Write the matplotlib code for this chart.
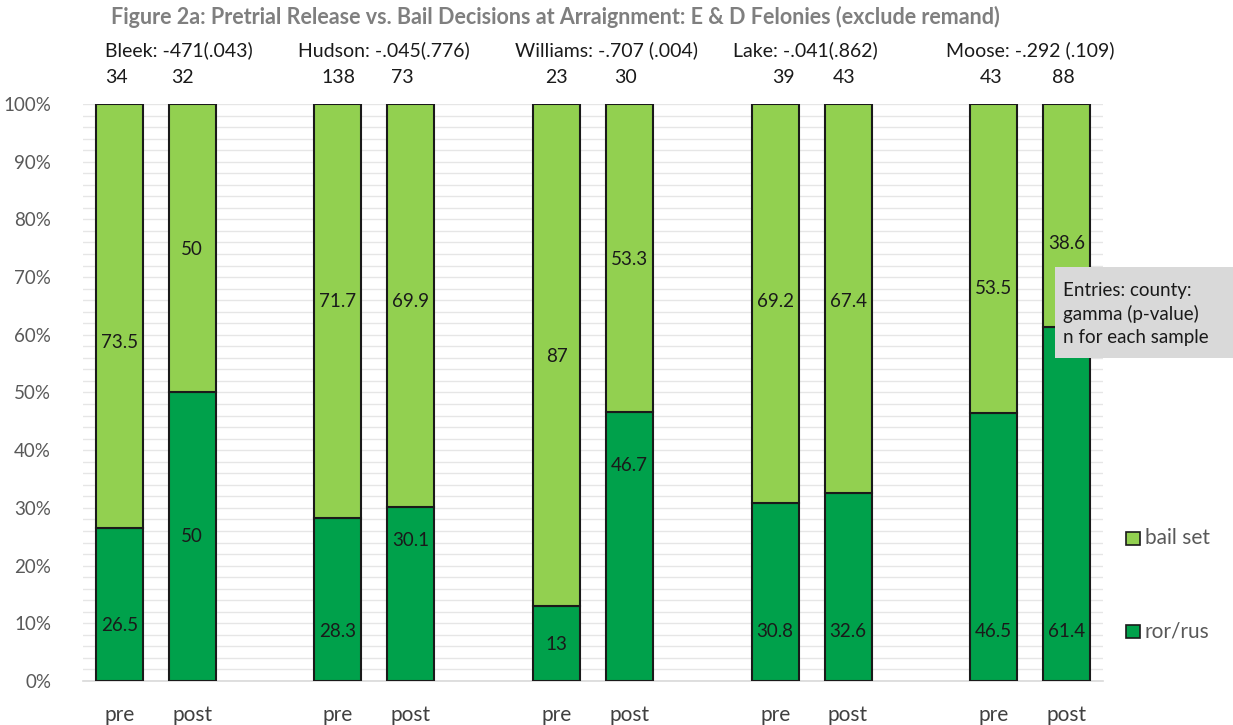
import matplotlib
matplotlib.use("Agg")
import matplotlib.pyplot as plt
import numpy as np
from matplotlib.patches import Rectangle

plt.rcParams['font.family'] = ['Lato', 'DejaVu Sans']

# Data
counties = ['Bleek', 'Hudson', 'Williams', 'Lake', 'Moose']
stats = ['-471(.043)', '-.045(.776)', '-.707 (.004)', '-.041(.862)', '-.292 (.109)']
periods = ['pre', 'post']
n_sample = [34, 32, 138, 73, 23, 30, 39, 43, 43, 88]
ror_rus = [26.5, 50, 28.3, 30.1, 13, 46.7, 30.8, 32.6, 46.5, 61.4]
bail_set = [73.5, 50, 71.7, 69.9, 87, 53.3, 69.2, 67.4, 53.5, 38.6]

# where the value labels sit inside each bar (percent height)
ror_lab_y = [9.7, 25.0, 8.5, 24.4, 6.4, 37.4, 8.5, 8.5, 8.5, 8.5]
bail_lab_y = [58.6, 74.7, 65.7, 65.7, 56.3, 73.0, 65.7, 65.7, 68.1, 75.9]
# header text nudges (in slot units)
head_dx = [0.32, 0.13, 0.19, -0.09, 0.0]
n_dx = [-0.04, -0.14, 0.0, -0.12, 0.0, -0.05, 0.12, -0.05, -0.04, -0.04]

dark = '#00A14B'
light = '#92D050'
edge = '#1a1a1a'

# each county uses 3 slots: pre, post, blank gap
xpos = []
for g in range(len(counties)):
    xpos += [g * 3, g * 3 + 1]
xpos = np.array(xpos)

fig = plt.figure(figsize=(12.33, 7.25), dpi=100)
ax = fig.add_axes([0.0673, 0.0607, 0.8273, 0.7959])

w = 0.645
ax.bar(xpos, ror_rus, width=w, color=dark, edgecolor=edge, linewidth=1.5, zorder=3)
ax.bar(xpos, bail_set, bottom=ror_rus, width=w, color=light, edgecolor=edge,
       linewidth=1.5, zorder=3)

for x, v, yl in zip(xpos, ror_rus, ror_lab_y):
    ax.text(x, yl, '{:g}'.format(v), ha='center', va='center', fontsize=13.5,
            color='#1a1a1a', zorder=4)
for x, v, yl in zip(xpos, bail_set, bail_lab_y):
    ax.text(x, yl, '{:g}'.format(v), ha='center', va='center', fontsize=13.5,
            color='#1a1a1a', zorder=4)

# sample sizes and county headers above the bars
for x, n, dx in zip(xpos, n_sample, n_dx):
    ax.text(x + dx, 104.6, str(n), ha='center', va='center', fontsize=14, color='#1a1a1a')
for g, (c, s) in enumerate(zip(counties, stats)):
    ax.text(g * 3 + 0.5 + head_dx[g], 109.3, '{}: {}'.format(c, s), ha='center',
            va='center', fontsize=14, color='#1a1a1a')

ax.set_xlim(-0.5, 13.5)
ax.set_ylim(0, 100)
ax.set_yticks(np.arange(0, 101, 10))
ax.set_yticklabels(['{}%'.format(t) for t in range(0, 101, 10)])
ax.set_yticks(np.arange(0, 101, 2), minor=True)
ax.set_xticks(xpos)
ax.set_xticklabels(periods * len(counties))
ax.tick_params(axis='y', length=0, labelsize=13.5, labelcolor='#595959', pad=23)
ax.tick_params(axis='y', which='minor', length=0)
ax.tick_params(axis='x', length=0, labelsize=15, labelcolor='#404040', pad=17)
ax.grid(axis='y', which='both', color='#e6e6e6', linewidth=1, zorder=0)
ax.set_axisbelow(True)
for sp in ['top', 'right', 'left']:
    ax.spines[sp].set_visible(False)
ax.spines['bottom'].set_color('#d9d9d9')
ax.spines['bottom'].set_linewidth(1.2)

fig.text(0.4505, 0.976, 'Figure 2a: Pretrial Release vs. Bail Decisions at Arraignment: E & D Felonies (exclude remand)',
         ha='center', va='center', fontsize=15.5, fontweight='bold', color='#7f7f7f')

# note box
fig.patches.append(Rectangle((1055 / 1233, 1 - 358 / 725), 200 / 1233, 91 / 725,
                             transform=fig.transFigure, facecolor='#d9d9d9',
                             edgecolor='none', zorder=5))
fig.text(1063 / 1233, 1 - 314 / 725, 'Entries: county:\ngamma (p-value)\nn for each sample',
         ha='left', va='center', fontsize=13.5, color='#1a1a1a', linespacing=1.38, zorder=6)

# legend
for lab, col, ypx in [('bail set', light, 538), ('ror/rus', dark, 631)]:
    fig.patches.append(Rectangle((1126 / 1233, 1 - (ypx + 6.5) / 725), 14 / 1233, 13 / 725,
                                 transform=fig.transFigure, facecolor=col,
                                 edgecolor=edge, linewidth=1.2))
    fig.text(1145 / 1233, 1 - ypx / 725, lab, ha='left', va='center', fontsize=15,
             color='#595959')

fig.savefig('out.png', dpi=100)
